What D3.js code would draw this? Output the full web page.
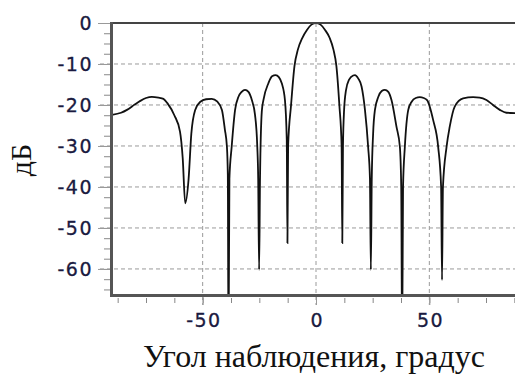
<!DOCTYPE html>
<html>
<head>
<meta charset="utf-8">
<script src="https://cdn.jsdelivr.net/npm/d3@7"></script>
<style>
  body { margin: 0; background: #fff; }
  svg { display: block; }
</style>
</head>
<body>
<div id="chart"></div>
<script>
// antenna pattern: angle (deg) vs level (dB)
const angles = [
  -90, -86, -83.4, -80, -77.5, -75, -72.4, -69.5, -67.3, -65.5, -62.5, -60, -58.8, -57.7, -56.2, -55, -53.3,
  -51, -48.5, -46, -43.5, -41.5, -40.2, -39.3, -38.9, -38.6, -38.2, -37.2, -35.7, -34.2, -32.8, -31.3,
  -29.8, -28.3, -26.9, -25.9, -25.5, -25.1, -24.7, -23.9, -23.2, -21, -19.4, -17.8, -16.4, -15.1, -13.7,
  -12.9, -12.6, -12.3, -11, -9.5, -8, -6, -4, -2, 0, 2, 4, 6, 7.7, 9, 10.3, 11.3, 11.6,
  11.9, 12.4, 13.2, 14.6, 16.4, 17.2, 18.6, 20.1, 21.6, 23, 23.8, 24.2, 24.6, 25.2, 26, 27.5, 29, 30.4,
  31.9, 33.3, 35.5, 37, 37.6, 38, 38.4, 39.2, 40.7, 42.2, 44, 45.8, 47.5, 49, 51.7, 53.9, 55.2, 55.6, 56,
  57.6, 59, 61.2, 64.9, 69.3, 72.2, 75.2, 78.1, 81.1, 84, 87.7, 90
];
const levels = [
  -22.4, -21.9, -21.2, -19.9, -19, -18.3, -18, -18.2, -18.5, -19.6, -22.5, -26.5, -33, -44, -38, -27, -21.2,
  -19.2, -18.6, -18.5, -19.2, -21.2, -26, -30.2, -37, -80, -38, -30.2, -21.2, -18, -16.8, -16.3,
  -16.8, -18.8, -22.4, -30.2, -38, -60.2, -38, -21.5, -18.8, -14.7, -13, -12.7, -13.2, -14.7, -18.8,
  -28.5, -53.7, -30, -20, -10.5, -6.5, -3.6, -1.7, -0.4, 0, -0.4, -1.7, -3.6, -6.5, -10.5, -20, -30, -53.7,
  -30, -21.2, -16.5, -13.8, -12.8, -12.7, -13.5, -15.5, -21.2, -30.2, -38, -60.2, -38, -27, -21.2, -18, -16.6, -16.3,
  -16.8, -18.8, -25.3, -30.2, -40, -80, -40, -30.2, -21.2, -19.2, -18.3, -18.1, -18.3, -18.8, -23.7, -30.2, -40, -62.7, -40,
  -30.2, -25.3, -20.4, -18.4, -18.1, -18.2, -18.8, -20, -21.2, -21.9, -22, -22.3
];
const xTicks = [-50, 0, 50];
const yTicks = [0, -10, -20, -30, -40, -50, -60];

const width = 515, height = 374;
const margin = {top: 23, bottom: 78, left: 112, right: -5};

const svg = d3.select("#chart")
  .append("svg")
  .attr("width", width)
  .attr("height", height);

const x = d3.scaleLinear()
  .domain([-90, 90])
  .range([margin.left, width - margin.right]);
const y = d3.scaleLinear()
  .domain([-66.6, 0])
  .range([height - margin.bottom, margin.top]);

const bottom = height - margin.bottom;

// grid
svg.append("g")
  .selectAll("line")
  .data(yTicks.filter(d => d !== 0))
  .enter()
  .append("line")
  .attr("x1", 100).attr("x2", width)
  .attr("y1", d => y(d)).attr("y2", d => y(d))
  .attr("stroke", "#9a9a9a")
  .attr("stroke-dasharray", "4,3");
svg.append("g")
  .selectAll("line")
  .data(xTicks)
  .enter()
  .append("line")
  .attr("x1", d => x(d)).attr("x2", d => x(d))
  .attr("y1", margin.top).attr("y2", bottom + 9)
  .attr("stroke", "#9a9a9a")
  .attr("stroke-dasharray", "4,3");

// minor ticks
svg.append("g")
  .attr("transform", `translate(${margin.left - 2},0)`)
  .call(d3.axisLeft(y).tickValues(d3.range(0, -66.6, -2.5)).tickSize(6).tickFormat(""))
  .call(g => g.select(".domain").remove())
  .call(g => g.selectAll("line").attr("stroke", "#888"));
svg.append("g")
  .attr("transform", `translate(0,${bottom + 2})`)
  .call(d3.axisBottom(x).tickValues(d3.range(-87.5, 90, 12.5)).tickSize(5).tickFormat(""))
  .call(g => g.select(".domain").remove())
  .call(g => g.selectAll("line").attr("stroke", "#888"));

// major ticks + labels (plain hyphen, as in the original)
svg.append("g")
  .attr("transform", `translate(${margin.left - 2},0)`)
  .call(d3.axisLeft(y).tickValues(yTicks).tickSize(12).tickPadding(5).tickFormat(d => String(d)))
  .call(g => g.select(".domain").remove())
  .call(g => g.selectAll("line").attr("stroke", "#999"))
  .call(g => g.selectAll("text")
    .attr("fill", "#1a1a40")
    .attr("stroke", "#1a1a40")
    .attr("stroke-width", 0.3)
    .style("font-family", "'DejaVu Sans', sans-serif")
    .style("font-size", "19px")
    .style("letter-spacing", "1.5px"));
svg.append("g")
  .attr("transform", `translate(0,${bottom})`)
  .call(d3.axisBottom(x).tickValues(xTicks).tickSize(9).tickPadding(9).tickFormat(d => String(d)))
  .call(g => g.select(".domain").remove())
  .call(g => g.selectAll("line").attr("stroke", "#999"))
  .call(g => g.selectAll("text")
    .attr("dx", 0.75)
    .attr("fill", "#1a1a40")
    .attr("stroke", "#1a1a40")
    .attr("stroke-width", 0.3)
    .style("font-family", "'DejaVu Sans', sans-serif")
    .style("font-size", "19px")
    .style("letter-spacing", "1.5px"));

// curve
svg.append("clipPath")
  .attr("id", "plot")
  .append("rect")
  .attr("x", margin.left)
  .attr("y", margin.top)
  .attr("width", width - margin.left)
  .attr("height", bottom - margin.top);

const pts = angles.map((a, i) => [a, levels[i]]);
const line = d3.line()
  .x(d => x(d[0]))
  .y(d => y(d[1]))
  .curve(d3.curveMonotoneX);

svg.append("path")
  .datum(pts)
  .attr("clip-path", "url(#plot)")
  .attr("fill", "none")
  .attr("stroke", "#111")
  .attr("stroke-width", 1.8)
  .attr("d", line);

// frame
svg.append("line")
  .attr("x1", margin.left).attr("x2", width)
  .attr("y1", margin.top).attr("y2", margin.top)
  .attr("stroke", "#444").attr("stroke-width", 2);
svg.append("line")
  .attr("x1", margin.left - 0.5).attr("x2", margin.left - 0.5)
  .attr("y1", margin.top - 1).attr("y2", bottom + 1)
  .attr("stroke", "#555").attr("stroke-width", 3);
svg.append("line")
  .attr("x1", margin.left - 2).attr("x2", width)
  .attr("y1", bottom - 0.5).attr("y2", bottom - 0.5)
  .attr("stroke", "#555").attr("stroke-width", 3);

// axis titles
svg.append("text")
  .attr("x", 314)
  .attr("y", 367)
  .attr("text-anchor", "middle")
  .style("font-family", "'Liberation Serif', serif")
  .style("font-size", "32px")
  .attr("fill", "#111")
  .text("Угол наблюдения, градус");
svg.append("text")
  .attr("transform", "rotate(-90)")
  .attr("x", -160)
  .attr("y", 31)
  .attr("text-anchor", "middle")
  .style("font-family", "'Liberation Serif', serif")
  .style("font-size", "30px")
  .attr("fill", "#111")
  .text("дБ");
</script>
</body>
</html>
